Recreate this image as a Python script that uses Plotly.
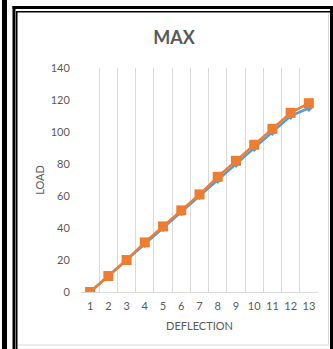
import plotly.graph_objects as go

deflection = list(range(1, 14))
load_blue = [0, 10, 20, 30, 40, 50, 60, 70, 80, 90, 100, 110, 115]
load_orange = [0, 10, 20, 31, 41, 51, 61, 72, 82, 92, 102, 112, 118]
y_ticks = [0, 20, 40, 60, 80, 100, 120, 140]

W, H = 333, 349
L, R, T, B = 81, 318, 68, 292  # plot area in pixels


def px(x):
    return (x - L) / (R - L)


def py(y):
    return (B - y) / (B - T)


fig = go.Figure()
fig.add_trace(go.Scatter(
    x=deflection, y=load_blue, mode="lines+markers",
    line=dict(color="#5B9BD5", width=2.5),
    marker=dict(symbol="diamond", size=6, color="#5B9BD5"),
    showlegend=False))
fig.add_trace(go.Scatter(
    x=deflection, y=load_orange, mode="lines+markers",
    line=dict(color="#ED7D31", width=2.5),
    marker=dict(symbol="square", size=10, color="#ED7D31"),
    showlegend=False))

font = "Lato, 'Open Sans', sans-serif"
grey = "#595959"

shapes = []
# left black bar (neighbouring cell border)
shapes.append(dict(type="rect", xref="paper", yref="paper",
                   x0=px(2), x1=px(7), y0=py(349), y1=py(0),
                   fillcolor="black", line=dict(width=0)))
# outer frame thick lines
shapes.append(dict(type="rect", xref="paper", yref="paper",
                   x0=px(12.5), x1=px(15.5), y0=py(349), y1=py(6),
                   fillcolor="black", line=dict(width=0)))
shapes.append(dict(type="rect", xref="paper", yref="paper",
                   x0=px(12.5), x1=px(333), y0=py(9), y1=py(6),
                   fillcolor="black", line=dict(width=0)))
shapes.append(dict(type="rect", xref="paper", yref="paper",
                   x0=px(330), x1=px(333), y0=py(349), y1=py(6),
                   fillcolor="black", line=dict(width=0)))
# inner thin lines
shapes.append(dict(type="rect", xref="paper", yref="paper",
                   x0=px(16), x1=px(17.5), y0=py(349), y1=py(11),
                   fillcolor="black", line=dict(width=0)))
shapes.append(dict(type="rect", xref="paper", yref="paper",
                   x0=px(16), x1=px(330), y0=py(12.5), y1=py(11),
                   fillcolor="black", line=dict(width=0)))
# light chart-area border
shapes.append(dict(type="line", xref="paper", yref="paper",
                   x0=px(328.5), x1=px(328.5), y0=py(345), y1=py(13),
                   line=dict(color="#D9D9D9", width=1)))
shapes.append(dict(type="line", xref="paper", yref="paper",
                   x0=px(18), x1=px(328.5), y0=py(345), y1=py(345),
                   line=dict(color="#D9D9D9", width=1)))

fig.update_layout(
    width=W, height=H,
    margin=dict(l=L, r=W - R, t=T, b=H - B),
    paper_bgcolor="white", plot_bgcolor="white",
    font=dict(family=font, color=grey, size=11),
    title=dict(text="<b>MAX</b>", x=174 / W, xref="container",
               xanchor="center",
               y=1 - 38 / H, yanchor="middle",
               font=dict(size=18, color=grey, family=font)),
    shapes=shapes,
)
fig.update_xaxes(
    range=[0.5, 13.5], tickvals=deflection,
    ticktext=[str(d) for d in deflection],
    showgrid=False, zeroline=False,
    ticks="outside", ticklen=4, tickcolor="rgba(0,0,0,0)",
    minor=dict(tick0=0.5, dtick=1, showgrid=True,
               gridcolor="#D9D9D9", gridwidth=1),
    showline=True, linecolor="#D9D9D9", linewidth=1,
    tickfont=dict(size=11, color=grey),
    title=dict(text="DEFLECTION", font=dict(size=11, color=grey), standoff=11),
)
fig.update_yaxes(
    range=[0, 140], tickvals=y_ticks,
    showgrid=False, zeroline=False, showline=False,
    ticks="outside", ticklen=8, tickcolor="rgba(0,0,0,0)",
    tickfont=dict(size=11, color=grey),
    title=dict(text="LOAD", font=dict(size=11, color=grey), standoff=3),
)

fig.write_html("out.html",
               config={"displayModeBar": False},
               post_script="document.body.style.margin='0';"
                           "document.body.style.overflow='hidden';")
